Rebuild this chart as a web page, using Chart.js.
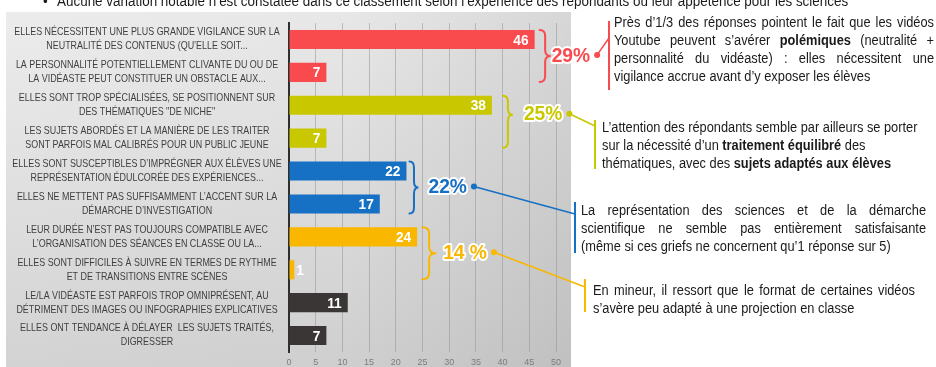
<!DOCTYPE html>
<html lang="fr">
<head>
<meta charset="utf-8">
<title>Réserves exprimées sur les vidéos Youtube</title>
<style>
  html, body { margin: 0; padding: 0; background: #fff; }
  #wrap { width: 936px; height: 367px; overflow: hidden; }
  canvas { display: block; }
</style>
</head>
<body>
<div id="wrap"><canvas id="chart" width="936" height="367"></canvas></div>
<script src="https://cdn.jsdelivr.net/npm/chart.js@4.4.1/dist/chart.umd.min.js"></script>
<script>
  "use strict";

  // --- data ---------------------------------------------------------------
  const CATEGORIES = [
    ["ELLES NÉCESSITENT UNE PLUS GRANDE VIGILANCE SUR LA", "NEUTRALITÉ DES CONTENUS (QU’ELLE SOIT..."],
    ["LA PERSONNALITÉ POTENTIELLEMENT CLIVANTE DU OU DE", "LA VIDÉASTE PEUT CONSTITUER UN OBSTACLE AUX..."],
    ["ELLES SONT TROP SPÉCIALISÉES, SE POSITIONNENT SUR", "DES THÉMATIQUES \"DE NICHE\""],
    ["LES SUJETS ABORDÉS ET LA MANIÈRE DE LES TRAITER", "SONT PARFOIS MAL CALIBRÉS POUR UN PUBLIC JEUNE"],
    ["ELLES SONT SUSCEPTIBLES D’IMPRÉGNER AUX ÉLÈVES UNE", "REPRÉSENTATION ÉDULCORÉE DES EXPÉRIENCES..."],
    ["ELLES NE METTENT PAS SUFFISAMMENT L’ACCENT SUR LA", "DÉMARCHE D’INVESTIGATION"],
    ["LEUR DURÉE N’EST PAS TOUJOURS COMPATIBLE AVEC", "L’ORGANISATION DES SÉANCES EN CLASSE OU LA..."],
    ["ELLES SONT DIFFICILES À SUIVRE EN TERMES DE RYTHME", "ET DE TRANSITIONS ENTRE SCÈNES"],
    ["LE/LA VIDÉASTE EST PARFOIS TROP OMNIPRÉSENT, AU", "DÉTRIMENT DES IMAGES OU INFOGRAPHIES EXPLICATIVES"],
    ["ELLES ONT TENDANCE À DÉLAYER  LES SUJETS TRAITÉS,", "DIGRESSER"]
  ];
  const VALUES = [46, 7, 38, 7, 22, 17, 24, 1, 11, 7];
  const X_TICKS = [0, 5, 10, 15, 20, 25, 30, 35, 40, 45, 50];
  // share of all answers for each pair of bars
  const GROUP_SHARES = ["29%", "25%", "22%", "14 %"];

  const HEADLINE = "Aucune variation notable n’est constatée dans ce classement selon l’expérience des répondants ou leur appétence pour les sciences";

  // "**" toggles bold
  const NOTES = [
    [
      "Près d’1/3 des réponses pointent le fait que les vidéos",
      "Youtube peuvent s’avérer **polémiques** (neutralité +",
      "personnalité du vidéaste) : elles nécessitent une",
      "vigilance accrue avant d’y exposer les élèves"
    ],
    [
      "L’attention des répondants semble par ailleurs se porter",
      "sur la nécessité d’un **traitement équilibré** des",
      "thématiques, avec des **sujets adaptés aux élèves**"
    ],
    [
      "La représentation des sciences et de la démarche",
      "scientifique ne semble pas entièrement satisfaisante",
      "(même si ces griefs ne concernent qu’1 réponse sur 5)"
    ],
    [
      "En mineur, il ressort que le format de certaines vidéos",
      "s’avère peu adapté à une projection en classe"
    ]
  ];

  // --- styling ------------------------------------------------------------
  const RED = "#f94a4d", OLIVE = "#c9c800", BLUE = "#1670c3", AMBER = "#f9b700", DARK = "#3b3636";
  const BAR_COLORS = [RED, RED, OLIVE, OLIVE, BLUE, BLUE, AMBER, AMBER, DARK, DARK];
  const GROUP_COLORS = [RED, OLIVE, BLUE, AMBER];

  const SANS = "\"Liberation Sans\", Arial, sans-serif";
  const SX = 0.915;       // slight horizontal squeeze on drawn text
  const LABEL_SX = 0.85;  // category labels are narrower still

  // brace: gap after the longer bar, brace width, share label offset, tip shift
  const BRACE_LAYOUT = [
    { gap: 5, w: 11, text: 12, shift: 0 },
    { gap: 11, w: 10, text: 21, shift: -7 },
    { gap: 3, w: 9, text: 19, shift: 0 },
    { gap: 5, w: 14, text: 21, shift: 0 }
  ];

  const NOTE_LAYOUT = [
    { x: 614, right: 934, base: 27, step: 18, justify: true, rule: [609, 21, 90], anchor: [609, 38] },
    { x: 602, right: 934, base: 132, step: 18, justify: false, rule: [595, 120, 169], anchor: [595, 126] },
    { x: 581, right: 926, base: 215, step: 18, justify: true, rule: [575, 202, 253], anchor: [575, 214] },
    { x: 593, right: 915, base: 295, step: 18, justify: true, rule: [585, 279, 312], anchor: [585, 287] }
  ];

  // --- drawing helpers ----------------------------------------------------
  function scaledText(ctx, text, x, y, align, sx) {
    ctx.save();
    ctx.translate(x, y);
    ctx.scale(sx || SX, 1);
    ctx.textAlign = align || "left";
    ctx.fillText(text, 0, 0);
    ctx.restore();
  }

  function parseWords(line) {
    const words = [];
    line.split("**").forEach((part, i) => {
      part.split(" ").filter(Boolean).forEach(w => words.push({ t: w, b: i % 2 === 1 }));
    });
    return words;
  }

  function drawParagraph(ctx, lines, lay) {
    const size = 14;
    const font = b => `${b ? "bold " : ""}${size}px ${SANS}`;
    ctx.fillStyle = "#1a1a1a";
    ctx.textBaseline = "alphabetic";
    lines.forEach((line, i) => {
      const words = parseWords(line);
      const widths = words.map(w => { ctx.font = font(w.b); return ctx.measureText(w.t).width * SX; });
      ctx.font = font(false);
      const space = ctx.measureText(" ").width * SX;
      const total = widths.reduce((a, b) => a + b, 0);
      const last = i === lines.length - 1;
      let gap = space;
      if (lay.justify && !last && words.length > 1) {
        gap = (lay.right - lay.x - total) / (words.length - 1);
      }
      let x = lay.x;
      const y = lay.base + i * lay.step;
      words.forEach((w, k) => {
        ctx.font = font(w.b);
        scaledText(ctx, w.t, x, y);
        x += widths[k] + gap;
      });
    });
  }

  function drawBrace(ctx, x, top, bottom, w, shift) {
    const mid = (top + bottom) / 2 + shift;
    const xm = x + w / 2;
    const r = 6;
    ctx.beginPath();
    ctx.moveTo(x, top);
    ctx.quadraticCurveTo(xm, top, xm, top + r);
    ctx.lineTo(xm, mid - r);
    ctx.quadraticCurveTo(xm, mid, x + w, mid);
    ctx.quadraticCurveTo(xm, mid, xm, mid + r);
    ctx.lineTo(xm, bottom - r);
    ctx.quadraticCurveTo(xm, bottom, x, bottom);
    ctx.stroke();
    return mid;
  }

  // grey backdrop behind the bar chart + headline line
  const backdrop = {
    id: "backdrop",
    beforeDraw(chart) {
      const { ctx, chartArea } = chart;
      ctx.save();
      ctx.fillStyle = "#ffffff";
      ctx.fillRect(0, 0, chart.width, chart.height);
      const left = 6, top = 12, right = chartArea.right + 15, bottom = chart.height;
      const g = ctx.createLinearGradient(0, top, 0, bottom);
      g.addColorStop(0, "#ececec");
      g.addColorStop(1, "#d3d3d3");
      ctx.fillStyle = g;
      ctx.fillRect(left, top, right - left, bottom - top);
      const h = ctx.createLinearGradient(left, 0, right, 0);
      h.addColorStop(0, "rgba(0,0,0,0)");
      h.addColorStop(0.6, "rgba(0,0,0,0.02)");
      h.addColorStop(1, "rgba(0,0,0,0.09)");
      ctx.fillStyle = h;
      ctx.fillRect(left, top, right - left, bottom - top);

      ctx.fillStyle = "#1a1a1a";
      ctx.font = `14.7px ${SANS}`;
      ctx.textBaseline = "alphabetic";
      scaledText(ctx, "•", 43, 6);
      scaledText(ctx, HEADLINE, 57, 6);
      ctx.restore();
    }
  };

  // two-line category labels, centred in the band left of the axis
  const categoryLabels = {
    id: "categoryLabels",
    afterDraw(chart) {
      const { ctx } = chart;
      const y = chart.scales.y;
      ctx.save();
      ctx.fillStyle = "#3f3f3f";
      ctx.font = `10.5px ${SANS}`;
      ctx.textBaseline = "middle";
      CATEGORIES.forEach((lines, i) => {
        const yc = y.getPixelForTick(i);
        lines.forEach((t, k) => {
          scaledText(ctx, t, 147, yc + (k - (lines.length - 1) / 2) * 14, "center", LABEL_SX);
        });
      });
      ctx.restore();
    }
  };

  // bar values, braces, shares and commentary
  const annotations = {
    id: "annotations",
    afterDatasetsDraw(chart) {
      const { ctx } = chart;
      const bars = chart.getDatasetMeta(0).data;
      ctx.save();
      ctx.textBaseline = "middle";
      ctx.fillStyle = "#ffffff";
      ctx.font = `bold 15px ${SANS}`;
      bars.forEach((bar, i) => {
        const text = String(VALUES[i]);
        const w = ctx.measureText(text).width * SX;
        const len = bar.x - bar.base;
        if (len > w + 10) scaledText(ctx, text, bar.x - 6, bar.y + 1, "right");
        else scaledText(ctx, text, bar.x + 2, bar.y + 1, "left");
      });
      ctx.restore();
    },
    afterDraw(chart) {
      const { ctx } = chart;
      const bars = chart.getDatasetMeta(0).data;
      ctx.save();
      GROUP_SHARES.forEach((label, g) => {
        const a = bars[2 * g], b = bars[2 * g + 1];
        const color = GROUP_COLORS[g];
        const bl = BRACE_LAYOUT[g];
        const x = Math.max(a.x, b.x) + bl.gap;
        const top = a.y - a.height / 2, bottom = b.y + b.height / 2;
        ctx.strokeStyle = color;
        ctx.lineWidth = 2;
        ctx.lineCap = "round";
        const mid = drawBrace(ctx, x, top, bottom, bl.w, bl.shift);

        ctx.font = `bold 21px ${SANS}`;
        ctx.textBaseline = "middle";
        const tx = x + bl.text;
        const tw = ctx.measureText(label).width * SX;
        ctx.save();
        ctx.translate(tx, mid);
        ctx.scale(SX, 1);
        ctx.lineJoin = "round";
        ctx.lineWidth = 4;
        ctx.strokeStyle = "#ffffff";
        ctx.strokeText(label, 0, 0);
        ctx.fillStyle = color;
        ctx.fillText(label, 0, 0);
        ctx.restore();

        const dx = tx + tw + 7, dy = mid - 1;
        const lay = NOTE_LAYOUT[g];
        ctx.strokeStyle = color;
        ctx.lineWidth = 1.5;
        ctx.beginPath();
        ctx.moveTo(dx, dy);
        ctx.lineTo(lay.anchor[0], lay.anchor[1]);
        ctx.stroke();
        ctx.fillStyle = color;
        ctx.beginPath();
        ctx.arc(dx, dy, 3, 0, Math.PI * 2);
        ctx.fill();

        ctx.lineWidth = 2;
        ctx.lineCap = "butt";
        ctx.beginPath();
        ctx.moveTo(lay.rule[0], lay.rule[1]);
        ctx.lineTo(lay.rule[0], lay.rule[2]);
        ctx.stroke();

        drawParagraph(ctx, NOTES[g], lay);
      });
      ctx.restore();
    }
  };

  new Chart(document.getElementById("chart"), {
    type: "bar",
    data: {
      labels: CATEGORIES,
      datasets: [{
        data: VALUES,
        backgroundColor: BAR_COLORS,
        borderWidth: 0,
        barPercentage: 0.58,
        categoryPercentage: 1
      }]
    },
    options: {
      indexAxis: "y",
      responsive: false,
      animation: false,
      devicePixelRatio: 1,
      layout: { padding: { top: 23, right: 380, bottom: 0, left: 0 } },
      plugins: {
        legend: { display: false },
        tooltip: { enabled: false }
      },
      scales: {
        x: {
          min: 0,
          max: 50,
          afterBuildTicks: s => { s.ticks = X_TICKS.map(v => ({ value: v })); },
          grid: { color: "rgba(150,150,150,0.55)", lineWidth: 1, drawTicks: false },
          border: { display: false },
          ticks: { color: "#7c7c7c", padding: 5, font: { family: SANS, size: 9 } },
          afterFit: s => { s.height = 15; }
        },
        y: {
          grid: { display: false, drawTicks: false },
          border: { display: true, color: "#2e2e2e", width: 2 },
          ticks: { display: false },
          afterFit: s => { s.width = 289; }
        }
      }
    },
    plugins: [backdrop, categoryLabels, annotations]
  });
</script>
</body>
</html>
